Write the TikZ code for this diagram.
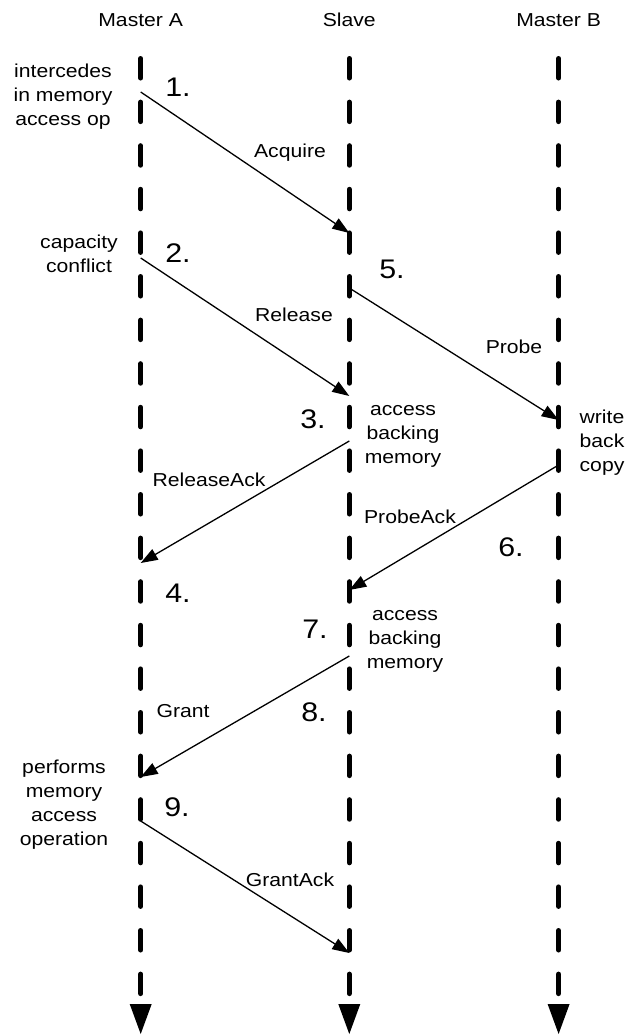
\documentclass[tikz,border=0pt]{standalone}
\usepackage{fontspec}
\setmainfont{Liberation Sans}[FakeStretch=1.13]
\usetikzlibrary{arrows.meta}
\begin{document}
\begin{tikzpicture}[x=1bp,y=-1bp,
  lifeline/.style={line width=5bp, line cap=round, dash pattern=on 19.5bp off 24.1bp},
  msg/.style={line width=1.3bp, -{Triangle[length=17bp,width=12bp]}},
  lbl/.style={font=\fontsize{18.8}{24.3}\selectfont, inner sep=0pt, anchor=base, align=center},
  num/.style={font=\fontsize{27}{30}\selectfont, inner sep=0pt, anchor=base},
  endtip/.style={fill=black}
]
\useasboundingbox (0,0) rectangle (629,1035);

% lifelines
\foreach \n/\x in {A/140.7,S/349.3,B/558.6} {
  \coordinate (\n top) at (\x,58.5);
  \coordinate (\n bot) at (\x,996);
  \draw[lifeline] (\n top) -- (\n bot);
  \fill[endtip] (\x-11,1004) -- (\x+11,1004) -- (\x,1034) -- cycle;
}

% headers
\node[lbl] (hA) at (140.7,26.7) {Master A};
\node[lbl] (hS) at (349.3,26.7) {Slave};
\node[lbl] (hB) at (558.6,26.7) {Master B};

% side notes (anchored at the baseline of their last line)
\node[lbl] (tA1) at (63,125.6) {intercedes\\in memory\\access op};
\node[lbl] (tA2) at (79,272.3) {capacity\\conflict};
\node[lbl] (tS1) at (403,463.6) {access\\backing\\memory};
\node[lbl] (tB1) at (602,471.6) {write\\back\\copy};
\node[lbl] (tS2) at (405,668.6) {access\\backing\\memory};
\node[lbl] (tA3) at (64,845.9) {performs\\memory\\access\\operation};

% message endpoints
\coordinate (m1s) at (140.7,92);  \coordinate (m1e) at (349.3,233);
\coordinate (m2s) at (140.7,258); \coordinate (m2e) at (349.3,396);
\coordinate (m5s) at (349.3,288); \coordinate (m5e) at (558.6,420);
\coordinate (m3s) at (349.3,441); \coordinate (m3e) at (140.7,563);
\coordinate (m6s) at (558.6,465); \coordinate (m6e) at (349.3,590);
\coordinate (m8s) at (349.3,656); \coordinate (m8e) at (140.7,777);
\coordinate (m9s) at (140.7,821); \coordinate (m9e) at (349.3,953);

\draw[msg] (m1s) -- (m1e);
\draw[msg] (m2s) -- (m2e);
\draw[msg] (m5s) -- (m5e);
\draw[msg] (m3s) -- (m3e);
\draw[msg] (m6s) -- (m6e);
\draw[msg] (m8s) -- (m8e);
\draw[msg] (m9s) -- (m9e);

% message labels
\node[lbl] (lAcq) at (290,157.3) {Acquire};
\node[lbl] (lRel) at (294,321.7) {Release};
\node[lbl] (lPrb) at (514,353) {Probe};
\node[lbl] (lRA) at (209,486.7) {ReleaseAck};
\node[lbl] (lPA) at (410,523) {ProbeAck};
\node[lbl] (lGr) at (183,717) {Grant};
\node[lbl] (lGA) at (290,886) {GrantAck};

% step numbers
\node[num] (n1) at (178,96.7) {1.};
\node[num] (n2) at (178,262.7) {2.};
\node[num] (n5) at (392,278.3) {5.};
\node[num] (n3) at (313,428.3) {3.};
\node[num] (n6) at (511,556.7) {6.};
\node[num] (n4) at (178,602.7) {4.};
\node[num] (n7) at (315,638.3) {7.};
\node[num] (n8) at (314,721.7) {8.};
\node[num] (n9) at (177,816.7) {9.};
\end{tikzpicture}
\end{document}
